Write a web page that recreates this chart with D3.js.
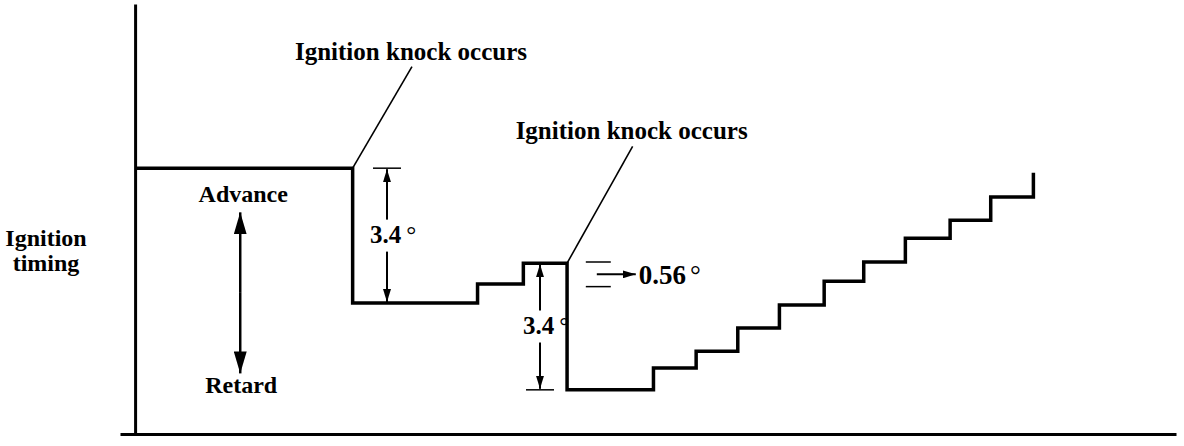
<!DOCTYPE html>
<html>
<head>
<meta charset="utf-8">
<script src="https://cdn.jsdelivr.net/npm/d3@7"></script>
<style>
  body { margin: 0; background: #fff; }
  svg { display: block; }
  text { font-family: "Liberation Serif", "Times New Roman", serif; font-weight: bold; fill: #000; }
</style>
</head>
<body>
<div id="chart"></div>
<script>
// step curve: time (arbitrary units) vs ignition advance (degrees)
const timeX = [0, 20.9, 32.9, 37.3, 41.5, 49.8, 53.9, 57.9, 61.9, 66.2, 70.0, 74.0, 78.3, 82.2, 86.3];
const advanceDeg = [6.80, 3.35, 3.84, 4.37, 1.13, 1.69, 2.12, 2.71, 3.30, 3.91, 4.40, 5.01, 5.47, 6.06, 6.68];

// knock events: time at knock, level, leader end [time, level]
const knockTimes = [20.9, 41.5];
const knockLevels = [6.80, 4.37];
const leaderEnd = [[26.6, 9.40], [47.8, 7.36]];
const knockLabels = ["Ignition knock occurs", "Ignition knock occurs"];

// retard dimensions: [time, from, to]
const retardDims = [[24.2, 6.80, 3.35], [38.9, 4.37, 1.13]];
const retardLabel = "3.4";

// advance step marker
const stepMarkTime = [43.3, 45.7];
const stepMarkLevels = [4.40, 3.77];
const stepLabel = "0.56";

// direction indicator
const dirTime = 10.1;
const dirRange = [5.67, 1.55];

const width = 1184, height = 446;

const svg = d3.select("#chart").append("svg")
  .attr("width", width)
  .attr("height", height);

const x = d3.scaleLinear().domain([-1.45, 100]).range([120, 1176]);
const y = d3.scaleLinear().domain([0, 11]).range([434, 4]);

const defs = svg.append("defs");
function marker(id, len, w) {
  defs.append("marker")
    .attr("id", id)
    .attr("viewBox", `0 0 ${len} ${w}`)
    .attr("refX", len).attr("refY", w / 2)
    .attr("markerUnits", "userSpaceOnUse")
    .attr("markerWidth", len).attr("markerHeight", w)
    .attr("orient", "auto-start-reverse")
    .append("path")
    .attr("d", `M0,0 L${len},${w / 2} L0,${w} Z`)
    .attr("fill", "#000");
}
marker("arrSmall", 13, 8);
marker("arrBig", 22, 13);

// axes (no ticks, just the frame)
svg.append("g")
  .attr("transform", `translate(0,${y(0)})`)
  .call(d3.axisBottom(x).ticks(0).tickSizeOuter(0))
  .select(".domain").attr("stroke-width", 3);
svg.append("g")
  .attr("transform", `translate(${x(0)},0)`)
  .call(d3.axisLeft(y).ticks(0).tickSizeOuter(0))
  .select(".domain").attr("stroke-width", 3);

svg.append("text")
  .attr("x", 46).attr("y", 246)
  .attr("text-anchor", "middle")
  .style("font-size", "24px")
  .text("Ignition");
svg.append("text")
  .attr("x", 46).attr("y", 271)
  .attr("text-anchor", "middle")
  .style("font-size", "24px")
  .text("timing");

// timing curve
const pts = timeX.map((t, i) => [t, advanceDeg[i]]);
const line = d3.line()
  .x(d => x(d[0]))
  .y(d => y(d[1]))
  .curve(d3.curveStepAfter);
svg.append("path")
  .datum(pts)
  .attr("d", line)
  .attr("fill", "none")
  .attr("stroke", "#000")
  .attr("stroke-width", 3.5)
  .attr("stroke-linejoin", "miter");

// knock leaders + labels
knockTimes.forEach((t, i) => {
  svg.append("line")
    .attr("x1", x(t)).attr("y1", y(knockLevels[i]))
    .attr("x2", x(leaderEnd[i][0])).attr("y2", y(leaderEnd[i][1]))
    .attr("stroke", "#000").attr("stroke-width", 1.6);
  svg.append("text")
    .attr("x", x(leaderEnd[i][0]) - 1)
    .attr("y", y(leaderEnd[i][1]) - 7)
    .attr("text-anchor", "middle")
    .style("font-size", "25px")
    .text(knockLabels[i]);
});

// 3.4 degree dimension arrows
retardDims.forEach(([t, a, b], i) => {
  const cx = x(t), y1 = y(a), y2 = y(b), mid = (y1 + y2) / 2;
  const tickY = i === 0 ? y1 : y2;
  svg.append("line")
    .attr("x1", cx - 14).attr("x2", cx + 14)
    .attr("y1", tickY).attr("y2", tickY)
    .attr("stroke", "#000").attr("stroke-width", 1.5);
  svg.append("line")
    .attr("x1", cx).attr("x2", cx)
    .attr("y1", mid - 16).attr("y2", y1 + 1)
    .attr("stroke", "#000").attr("stroke-width", 2)
    .attr("marker-end", "url(#arrSmall)");
  svg.append("line")
    .attr("x1", cx).attr("x2", cx)
    .attr("y1", mid + 16).attr("y2", y2 - 1)
    .attr("stroke", "#000").attr("stroke-width", 2)
    .attr("marker-end", "url(#arrSmall)");
  const lbl = svg.append("text")
    .attr("x", cx - 17).attr("y", mid + 7)
    .style("font-size", "25px");
  lbl.append("tspan").text(retardLabel);
  lbl.append("tspan").attr("dx", 5).style("font-weight", "normal").text("°");
});

// 0.56 degree step marker
stepMarkLevels.forEach(v => {
  svg.append("line")
    .attr("x1", x(stepMarkTime[0])).attr("x2", x(stepMarkTime[1]))
    .attr("y1", y(v)).attr("y2", y(v))
    .attr("stroke", "#000").attr("stroke-width", 1.5);
});
const midStep = (y(stepMarkLevels[0]) + y(stepMarkLevels[1])) / 2;
svg.append("line")
  .attr("x1", x(stepMarkTime[0]) + 11).attr("x2", x(stepMarkTime[1]) + 25)
  .attr("y1", midStep).attr("y2", midStep)
  .attr("stroke", "#000").attr("stroke-width", 2)
  .attr("marker-end", "url(#arrSmall)");
const sl = svg.append("text")
  .attr("x", x(stepMarkTime[1]) + 28).attr("y", midStep + 10)
  .style("font-size", "27px");
sl.append("tspan").text(stepLabel);
sl.append("tspan").attr("dx", 4).style("font-weight", "normal").text("°");

// advance / retard indicator
const dx = x(dirTime);
svg.append("line")
  .attr("x1", dx).attr("x2", dx)
  .attr("y1", (y(dirRange[0]) + y(dirRange[1])) / 2).attr("y2", y(dirRange[0]))
  .attr("stroke", "#000").attr("stroke-width", 2.5)
  .attr("marker-end", "url(#arrBig)");
svg.append("line")
  .attr("x1", dx).attr("x2", dx)
  .attr("y1", (y(dirRange[0]) + y(dirRange[1])) / 2).attr("y2", y(dirRange[1]))
  .attr("stroke", "#000").attr("stroke-width", 2.5)
  .attr("marker-end", "url(#arrBig)");
svg.append("text")
  .attr("x", dx + 3).attr("y", y(dirRange[0]) - 10)
  .attr("text-anchor", "middle")
  .style("font-size", "24px")
  .text("Advance");
svg.append("text")
  .attr("x", dx + 1).attr("y", y(dirRange[1]) + 20)
  .attr("text-anchor", "middle")
  .style("font-size", "24px")
  .text("Retard");
</script>
</body>
</html>
